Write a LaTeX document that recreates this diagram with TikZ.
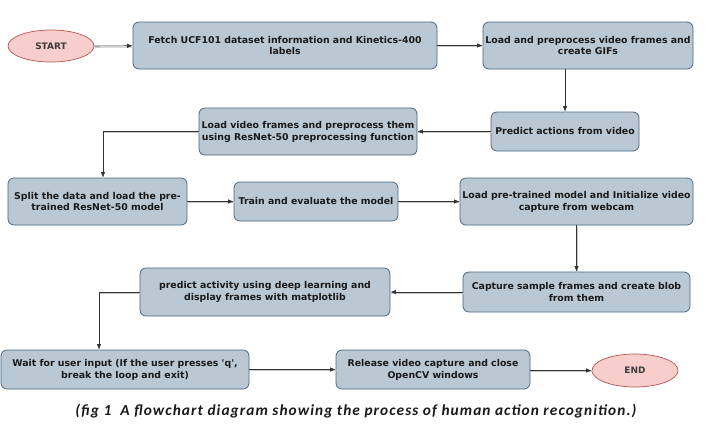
\documentclass[tikz,border=0pt]{standalone}
\usepackage{fontspec}
\setmainfont{DejaVu Sans}
\newfontfamily\capfont[LetterSpace=7]{Carlito}
\usetikzlibrary{shapes.geometric,arrows.meta}
\definecolor{boxfill}{HTML}{BAC8D3}
\definecolor{boxline}{HTML}{4A6680}
\definecolor{ellfill}{HTML}{F8CECC}
\definecolor{ellline}{HTML}{B85450}
\definecolor{txt}{HTML}{1A1A1A}
\tikzset{
  procbox/.style={draw=boxline, fill=boxfill, line width=0.8pt, rounded corners=6bp,
    align=center, inner sep=0pt, text=txt, font=\fontsize{9.4}{12}\selectfont\bfseries},
  term/.style={ellipse, draw=ellline, fill=ellfill, line width=0.7pt, inner sep=0pt,
    text=txt!85, font=\fontsize{9}{11}\selectfont\bfseries},
  conn/.style={-{Latex[length=5.5bp,width=4.5bp]}, draw=black!80, line width=0.7pt,
    preaction={draw=black!22, line width=1.1pt, -, transform canvas={shift={(0.9bp,-1.3bp)}}}}
}
\begin{document}
\begin{tikzpicture}[x=1bp,y=-1bp]
\useasboundingbox[fill=white] (0,0) rectangle (714,431);
\node[term, minimum width=86bp, minimum height=32bp] (start) at (51,46) {START};
\node[procbox, minimum width=304bp, minimum height=47bp] (fetch) at (285,45.5) {Fetch UCF101 dataset information and Kinetics-400\\labels};
\node[procbox, minimum width=210bp, minimum height=47bp] (load) at (588,45.5) {Load and preprocess video frames and\\create GIFs};
\node[procbox, minimum width=148bp, minimum height=39bp] (pred) at (565,131.5) {Predict actions from video};
\node[procbox, minimum width=218bp, minimum height=47bp] (lv) at (308,131.5) {Load video frames and preprocess them\\using ResNet-50 preprocessing function};
\node[procbox, minimum width=179bp, minimum height=47bp] (split) at (97.5,201.5) {Split the data and load the pre-\\trained ResNet-50 model};
\node[procbox, minimum width=164bp, minimum height=39bp] (train) at (316,201.5) {Train and evaluate the model};
\node[procbox, minimum width=233bp, minimum height=47bp] (lp) at (576.5,201.5) {Load pre-trained model and Initialize video\\capture from webcam};
\node[procbox, minimum width=227bp, minimum height=40bp] (cap) at (576.5,292) {Capture sample frames and create blob\\from them};
\node[procbox, minimum width=250bp, minimum height=48bp] (pa) at (265,292) {predict activity using deep learning and\\display frames with matplotlib};
\node[procbox, minimum width=248bp, minimum height=39bp] (wait) at (125,369.5) {Wait for user input (If the user presses \textquotesingle q\textquotesingle,\\break the loop and exit)};
\node[procbox, minimum width=194bp, minimum height=39bp] (rel) at (433,369.5) {Release video capture and close\\OpenCV windows};
\node[term, minimum width=86bp, minimum height=33bp] (end) at (635,370.5) {END};
\node[font=\capfont\fontsize{15.4}{17}\selectfont\bfseries\itshape, text=txt] (cap1) at (356,411) {(fig 1\ \ A flowchart diagram showing the process of human action recognition.)};
\draw[conn] (start) -- (fetch);
\draw[conn] (fetch) -- (load);
\draw[conn] (load.south -| pred) -- (pred.north);
\draw[conn] (pred) -- (lv);
\draw[conn] (lv.west) -| ([xshift=5.5bp]split.north);
\draw[conn] (split) -- (train);
\draw[conn] (train) -- (lp);
\draw[conn] (lp) -- (cap);
\draw[conn] (cap) -- (pa);
\draw[conn] (pa.west) -| ([xshift=-26bp]wait.north);
\draw[conn] (wait.east |- rel) -- (rel);
\draw[conn] (rel.east |- end) -- (end);
\end{tikzpicture}
\end{document}
